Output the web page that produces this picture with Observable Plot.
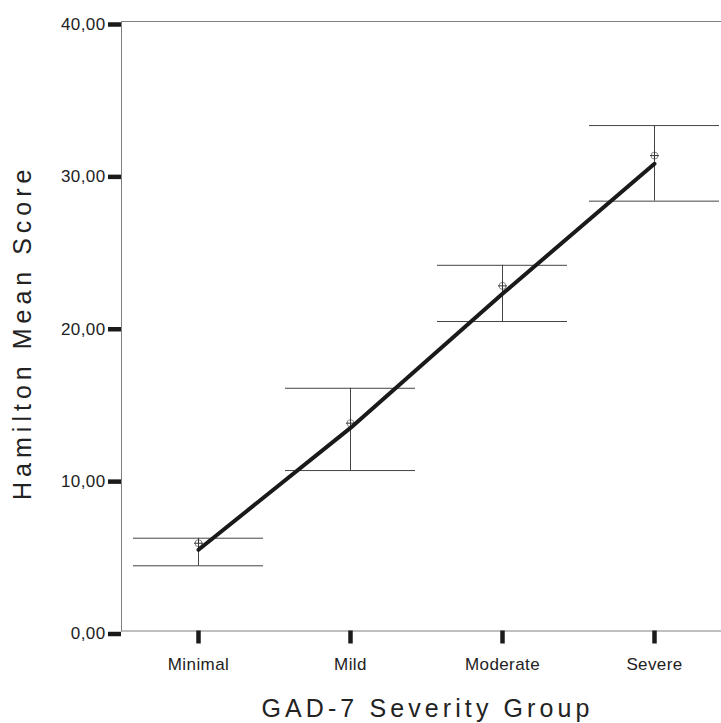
<!DOCTYPE html>
<html>
<head>
<meta charset="utf-8">
<script src="https://cdn.jsdelivr.net/npm/d3@7"></script>
<script src="https://cdn.jsdelivr.net/npm/@observablehq/plot@0.6"></script>
<style>
  html, body { margin: 0; padding: 0; background: #fff; }
  svg text { font-family: "Liberation Sans", Arial, sans-serif; }
</style>
</head>
<body>
<div id="chart"></div>
<script>
const categories = ["Minimal", "Mild", "Moderate", "Severe"];
const means = [5.76, 13.64, 22.65, 31.2];
const ciLow = [4.28, 10.53, 20.31, 28.21];
const ciHigh = [6.09, 15.93, 24.0, 33.17];
const fitLine = [5.33, 13.33, 22.13, 30.66];
const yTicks = [0, 10, 20, 30, 40];
const xTitle = "GAD-7 Severity Group";
const yTitle = "Hamilton Mean Score";

const rows = categories.map((c, i) => ({cat: c, mean: means[i], lo: ciLow[i], hi: ciHigh[i], fit: fitLine[i]}));
const fmt = d => d.toFixed(2).replace(".", ",");

const chart = Plot.plot({
  width: 721,
  height: 723,
  marginLeft: 121,
  marginRight: 0,
  marginTop: 21,
  marginBottom: 92.5,
  style: {fontFamily: "Liberation Sans, Arial, sans-serif", background: "#fff"},
  x: {type: "band", domain: categories, range: [110.4, 742.4], padding: 0.1415, axis: null},
  y: {domain: [0, 40], axis: null},
  marks: [
    Plot.ruleY([0, 40], {stroke: "#808080", strokeWidth: 1}),
    Plot.frame({anchor: "left", stroke: "#808080", strokeWidth: 1}),
    Plot.axisY({ticks: yTicks, tickSize: 13, tickPadding: 3, tickFormat: fmt, stroke: "#1a1a1a", strokeWidth: 4.5, fill: "#222", fontSize: 17, dy: 3, label: null}),
    Plot.axisX({tickSize: 13, tickPadding: 14, stroke: "#1a1a1a", strokeWidth: 4.5, fill: "#222", fontSize: 17, label: null}),
    Plot.ruleX(rows, {x: "cat", y1: "lo", y2: "hi", stroke: "#444", strokeWidth: 1}),
    Plot.tickY(rows, {x: "cat", y: "lo", stroke: "#444", strokeWidth: 1}),
    Plot.tickY(rows, {x: "cat", y: "hi", stroke: "#444", strokeWidth: 1}),
    Plot.dot(rows, {x: "cat", y: "mean", r: 3.5, stroke: "#888", fill: "none", strokeWidth: 1}),
    Plot.dot(rows, {x: "cat", y: "mean", symbol: "plus", r: 3, stroke: "#333", strokeWidth: 1}),
    Plot.line(rows, {x: "cat", y: "fit", stroke: "#1a1a1a", strokeWidth: 4}),
    Plot.text([yTitle], {frameAnchor: "left", textAnchor: "middle", lineAnchor: "middle", rotate: -90, dx: -99, dy: 6, fontSize: 25, fill: "#222"}),
    Plot.text([xTitle], {frameAnchor: "bottom", textAnchor: "middle", lineAnchor: "middle", dx: 6, dy: 77.5, fontSize: 25, fill: "#222"})
  ]
});
document.getElementById("chart").appendChild(chart);

d3.select(chart).selectAll("text").each(function () {
  const t = this.textContent;
  if (t === xTitle) this.setAttribute("letter-spacing", "4.1px");
  else if (t === yTitle) this.setAttribute("letter-spacing", "5px");
  else this.setAttribute("letter-spacing", "0.4px");
});
</script>
</body>
</html>
